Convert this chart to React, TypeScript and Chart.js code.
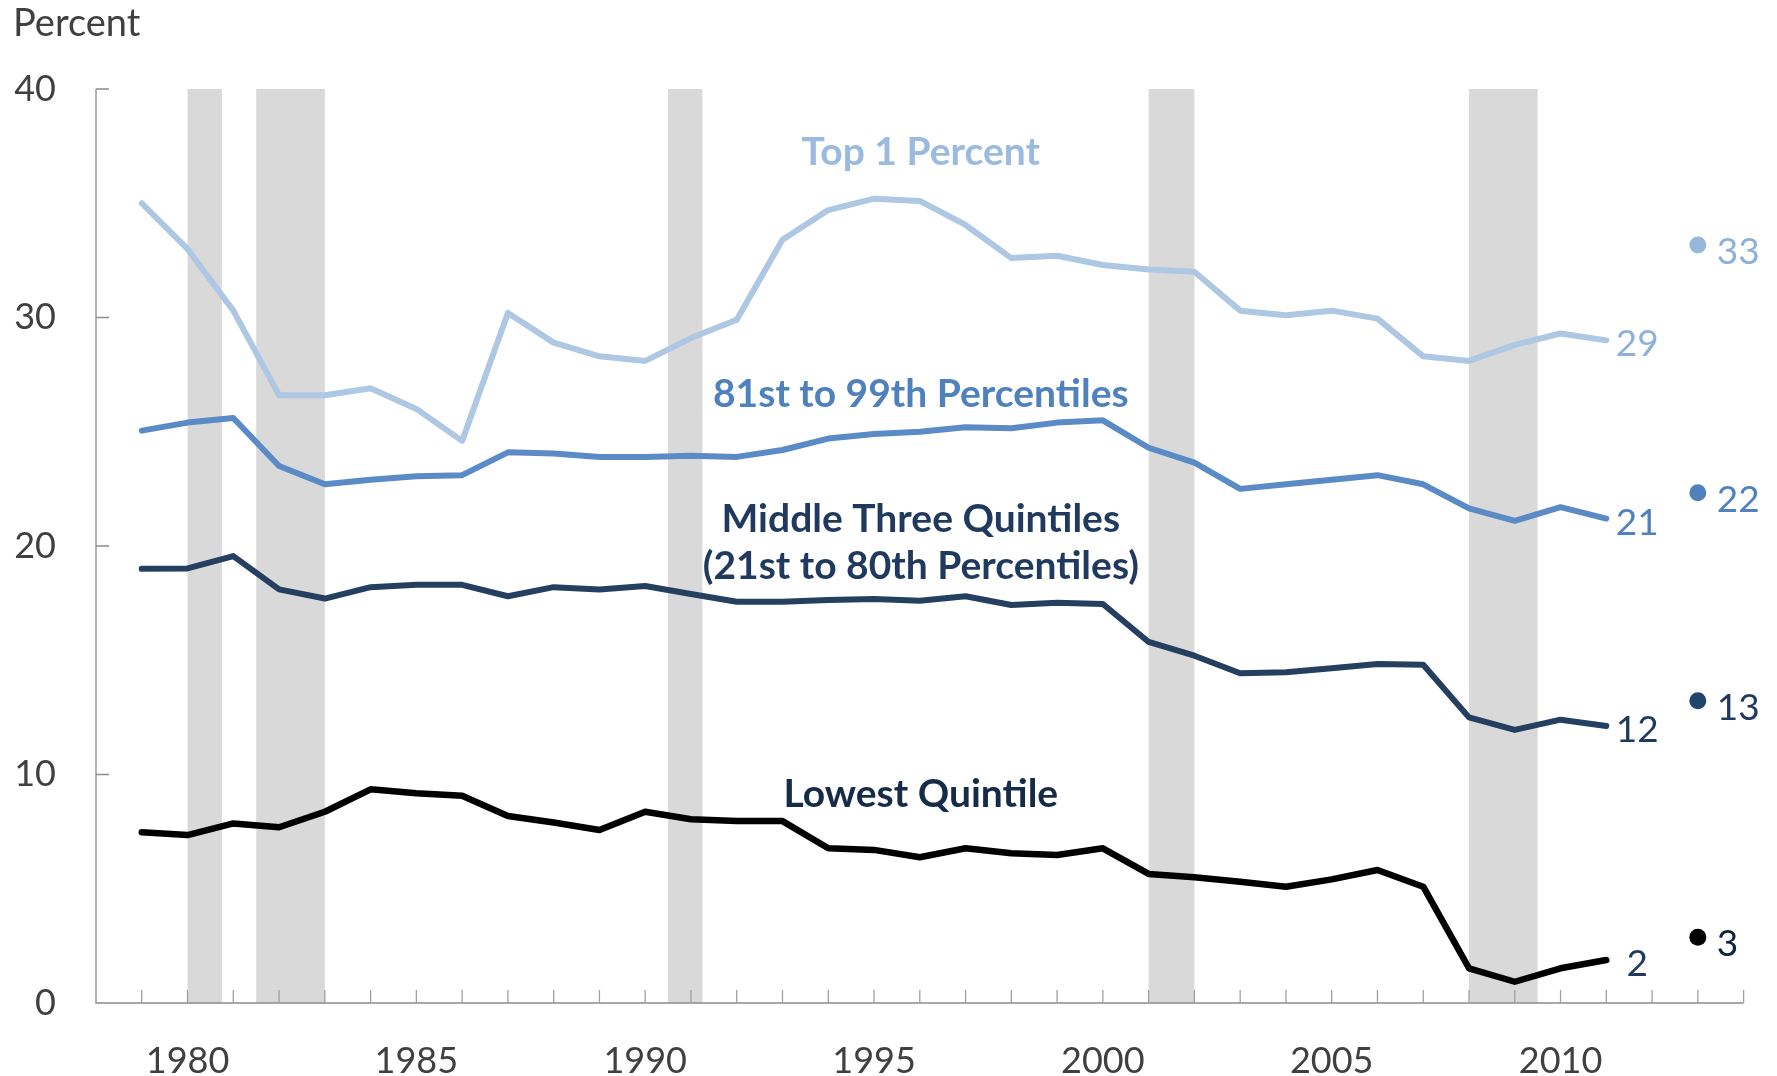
import React, { useEffect, useRef } from 'react';
import { Chart, registerables } from 'chart.js';

Chart.register(...registerables);

// ---------- data ----------
const years = [
  1979, 1980, 1981, 1982, 1983, 1984, 1985, 1986, 1987, 1988, 1989,
  1990, 1991, 1992, 1993, 1994, 1995, 1996, 1997, 1998, 1999, 2000,
  2001, 2002, 2003, 2004, 2005, 2006, 2007, 2008, 2009, 2010, 2011,
];
const top1 = [
  35.0, 33.0, 30.3, 26.6, 26.6, 26.9, 26.0, 24.6, 30.2, 28.9, 28.3,
  28.1, 29.1, 29.9, 33.4, 34.7, 35.2, 35.1, 34.05, 32.6, 32.7, 32.3,
  32.1, 32.0, 30.3, 30.1, 30.3, 29.95, 28.3, 28.1, 28.8, 29.3, 29.0,
];
const p81to99 = [
  25.05, 25.4, 25.6, 23.5, 22.7, 22.9, 23.05, 23.1, 24.1, 24.05, 23.9,
  23.9, 23.95, 23.9, 24.2, 24.7, 24.9, 25.0, 25.2, 25.15, 25.4, 25.5,
  24.3, 23.65, 22.5, 22.7, 22.9, 23.1, 22.7, 21.65, 21.1, 21.7, 21.2,
];
const middle3 = [
  19.0, 19.02, 19.56, 18.1, 17.7, 18.2, 18.3, 18.3, 17.8, 18.2, 18.1,
  18.25, 17.9, 17.56, 17.56, 17.64, 17.68, 17.6, 17.8, 17.42, 17.52, 17.46,
  15.8, 15.2, 14.43, 14.47, 14.65, 14.84, 14.8, 12.5, 11.95, 12.4, 12.12,
];
const lowest = [
  7.47, 7.35, 7.86, 7.69, 8.37, 9.35, 9.18, 9.07, 8.18, 7.9, 7.57,
  8.37, 8.04, 7.96, 7.96, 6.77, 6.7, 6.38, 6.77, 6.55, 6.48, 6.77,
  5.65, 5.5, 5.31, 5.09, 5.41, 5.82, 5.09, 1.52, 0.93, 1.52, 1.88,
];
// separate single-year estimates (2013)
const dotYear = 2013;
const dotValues = [33.17, 22.33, 13.23, 2.88];
const dotLabels = ['33', '22', '13', '3'];
// labels at the end of each line (2011)
const endLabels = ['29', '21', '12', '2'];

const seriesNames = ['Top 1 Percent', '81st to 99th Percentiles', 'Middle Three Quintiles', 'Lowest Quintile'];

// recession periods
const recessionStart = [1980.0, 1981.5, 1990.5, 2001.0, 2008.0];
const recessionEnd = [1980.75, 1983.0, 1991.25, 2002.0, 2009.5];

const yTicks = [0, 10, 20, 30, 40];
const xMin = 1978;
const xMax = 2014;

// ---------- styles ----------
const lineColors = ['#AEC7E3', '#5B8BC6', '#253F61', '#000000'];
const nameColors = ['#9BBAE0', '#4F81BE', '#1F3A5E', '#152B48'];
const endLabelColors = ['#8EB0DA', '#4F81BE', '#1F3A5E', '#1F3A5E'];
const dotColors = ['#97B7DD', '#4F81BD', '#21446F', '#000000'];
const dotLabelColors = ['#8EB0DA', '#4F81BE', '#1F3A5E', '#10233A'];
const textGray = '#404040';
const axisGray = '#8C8C8C';
const shadeColor = '#D9D9D9';
const FONT = 'Lato, "Open Sans", "DejaVu Sans", sans-serif';

// name label placements (value units, x is plot centre)
const nameLabelRows: { lines: string[]; values: number[] }[] = [
  { lines: ['Top 1 Percent'], values: [37.3] },
  { lines: ['81st to 99th Percentiles'], values: [26.7] },
  { lines: ['Middle Three Quintiles', '(21st to 80th Percentiles)'], values: [21.25, 19.2] },
  { lines: ['Lowest Quintile'], values: [9.2] },
];

const decorPlugin = {
  id: 'decor',
  beforeDatasetsDraw(chart: any) {
    const { ctx, chartArea: a, scales } = chart;
    const x = scales.x;
    const y = scales.y;
    ctx.save();
    // recession shading
    ctx.fillStyle = shadeColor;
    recessionStart.forEach((s: number, i: number) => {
      const x0 = x.getPixelForValue(s);
      const x1 = x.getPixelForValue(recessionEnd[i]);
      ctx.fillRect(x0, a.top, x1 - x0, a.bottom - a.top);
    });
    // axis lines
    ctx.strokeStyle = axisGray;
    ctx.lineWidth = 1.3;
    ctx.beginPath();
    ctx.moveTo(a.left, a.top);
    ctx.lineTo(a.left, a.bottom);
    ctx.lineTo(a.right, a.bottom);
    // inward y ticks
    yTicks.forEach((v) => {
      const py = y.getPixelForValue(v);
      ctx.moveTo(a.left, py);
      ctx.lineTo(a.left + 13, py);
    });
    ctx.stroke();
    // inward x ticks
    ctx.strokeStyle = '#A0A0A0';
    ctx.beginPath();
    for (let yr = xMin + 1; yr <= xMax; yr++) {
      const px = x.getPixelForValue(yr);
      ctx.moveTo(px, a.bottom);
      ctx.lineTo(px, a.bottom - 13);
    }
    ctx.stroke();
    ctx.restore();
  },
  afterDatasetsDraw(chart: any) {
    const { ctx, chartArea: a, scales } = chart;
    const x = scales.x;
    const y = scales.y;
    ctx.save();
    // "Percent" unit label
    ctx.font = `38px ${FONT}`;
    ctx.fillStyle = textGray;
    ctx.textAlign = 'left';
    ctx.textBaseline = 'middle';
    ctx.fillText('Percent', 13, 24);

    // series names
    const cx = (a.left + a.right) / 2 + 1;
    ctx.font = `bold 39px ${FONT}`;
    ctx.textAlign = 'center';
    nameLabelRows.forEach((row, i) => {
      ctx.fillStyle = nameColors[i];
      row.lines.forEach((t, j) => {
        ctx.fillText(t, cx, y.getPixelForValue(row.values[j]) + 2);
      });
    });

    // end-of-line labels
    ctx.font = `37px ${FONT}`;
    const lastYear = years[years.length - 1];
    const series = [top1, p81to99, middle3, lowest];
    series.forEach((s, i) => {
      ctx.fillStyle = endLabelColors[i];
      ctx.textAlign = 'center';
      ctx.fillText(endLabels[i], x.getPixelForValue(lastYear) + 31, y.getPixelForValue(s[s.length - 1]) + 4);
    });
    // dot labels
    dotValues.forEach((v, i) => {
      ctx.fillStyle = dotLabelColors[i];
      ctx.textAlign = 'left';
      ctx.fillText(dotLabels[i], x.getPixelForValue(dotYear) + 19, y.getPixelForValue(v) + 7);
    });
    ctx.restore();
  },
};

export default function App() {
  const canvasRef = useRef<HTMLCanvasElement | null>(null);

  useEffect(() => {
    const canvas = canvasRef.current;
    if (!canvas) return;
    const toPts = (arr: number[]) => arr.map((v, i) => ({ x: years[i], y: v }));
    const lineSets = [top1, p81to99, middle3, lowest].map((arr, i) => ({
      type: 'line' as const,
      label: seriesNames[i],
      data: toPts(arr),
      borderColor: lineColors[i],
      backgroundColor: lineColors[i],
      borderWidth: i === 3 ? 6.5 : 6,
      borderCapStyle: 'round' as const,
      borderJoinStyle: 'round' as const,
      pointRadius: 0,
      tension: 0,
      fill: false,
      order: 4 - i,
    }));
    const dotSet = {
      type: 'scatter' as const,
      label: 'Estimates',
      data: dotValues.map((v) => ({ x: dotYear, y: v })),
      pointRadius: 8.5,
      pointBackgroundColor: dotColors,
      pointBorderColor: dotColors,
      pointBorderWidth: 0,
      showLine: false,
    };

    const chart = new Chart(canvas, {
      type: 'line',
      data: { datasets: [...lineSets, dotSet] as any },
      options: {
        responsive: false,
        animation: false,
        devicePixelRatio: 1,
        layout: { padding: { left: 0, top: 89, right: 33.4, bottom: 0 } },
        plugins: {
          legend: { display: false },
          tooltip: { enabled: false },
          title: { display: false },
        },
        scales: {
          x: {
            type: 'linear',
            min: xMin,
            max: xMax,
            grid: { display: false, drawTicks: false },
            border: { display: false },
            afterFit: (s: any) => {
              s.height = 73;
              s.paddingLeft = 0;
              s.paddingRight = 0;
            },
            ticks: {
              stepSize: 1,
              autoSkip: false,
              maxRotation: 0,
              padding: 37,
              color: textGray,
              font: { family: FONT, size: 36 },
              callback: (v: any) => {
                const r = Math.round(Number(v));
                return r % 5 === 0 ? String(r) : '';
              },
            },
          },
          y: {
            type: 'linear',
            min: 0,
            max: 40,
            grid: { display: false, drawTicks: false },
            border: { display: false },
            afterFit: (s: any) => {
              s.width = 96;
              s.paddingTop = 0;
              s.paddingBottom = 0;
            },
            ticks: {
              stepSize: 10,
              padding: 40,
              color: textGray,
              font: { family: FONT, size: 36 },
            },
          },
        },
      },
      plugins: [decorPlugin],
    });
    return () => chart.destroy();
  }, []);

  return (
    <div style={{ position: 'absolute', left: 0, top: 0, width: 1777, height: 1076, background: '#fff' }}>
      <canvas ref={canvasRef} width={1777} height={1076} style={{ display: 'block' }} />
    </div>
  );
}
